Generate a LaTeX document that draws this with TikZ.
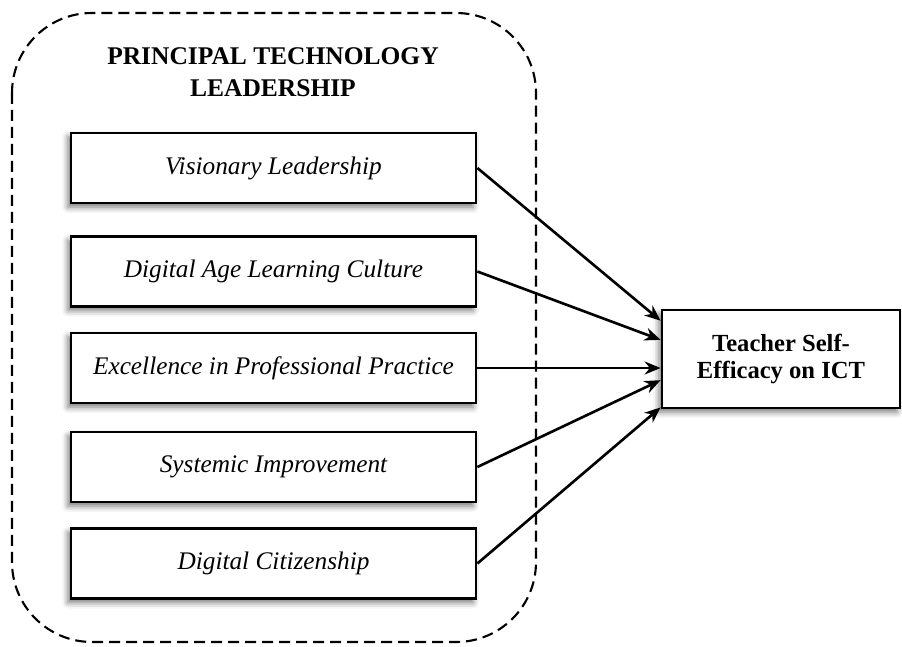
\documentclass[tikz,border=0pt]{standalone}
\usepackage{fontspec}
\setmainfont{Liberation Serif}
\usetikzlibrary{arrows.meta, calc, shadows.blur}
\tikzset{
	factor/.style={draw, line width=1.6pt, fill=white, minimum width=8.1cm, minimum height=1.4cm, font=\fontsize{14.4}{17}\selectfont\itshape, blur shadow={shadow xshift=-0.6mm, shadow yshift=-0.8mm, shadow blur radius=1.2mm, shadow opacity=55}},
	outcome/.style={factor, minimum width=4.76cm, minimum height=1.96cm, align=center, font=\fontsize{14}{15.9}\selectfont\bfseries},
	arr/.style={line width=1.5pt, -{Stealth[length=3.2mm, width=2.6mm]}},
}
\begin{document}
\begin{tikzpicture}[x=0.02cm, y=-0.02cm]
		\useasboundingbox (0,0) rectangle (902,646);
		\draw[dash pattern=on 0.22cm off 0.12cm, line width=1.2pt, rounded corners=1.6cm] (12,13) rectangle (536,642);
		\node[align=center, font=\fontsize{14.5}{18}\selectfont\bfseries] (title) at (273,72) {PRINCIPAL TECHNOLOGY\\LEADERSHIP};
		\foreach \n/\t/\y in {vis/Visionary Leadership/168, dig/Digital Age Learning Culture/271.5, exc/Excellence in Professional Practice/368, sys/Systemic Improvement/467, cit/Digital Citizenship/563.5}
			\node[factor] (\n) at (273.5,\y) {\t};
		\node[outcome] (tse) at (781,359) {Teacher Self-\\Efficacy on ICT};
		\foreach \n/\f in {vis/0.12, dig/0.31, sys/0.71, cit/0.98}
			\draw[arr] (\n.east) to ($(tse.north west)!\f!(tse.south west)$);
		\draw[arr] (exc.east) to (exc.east -| tse.west);
	\end{tikzpicture}
\end{document}
